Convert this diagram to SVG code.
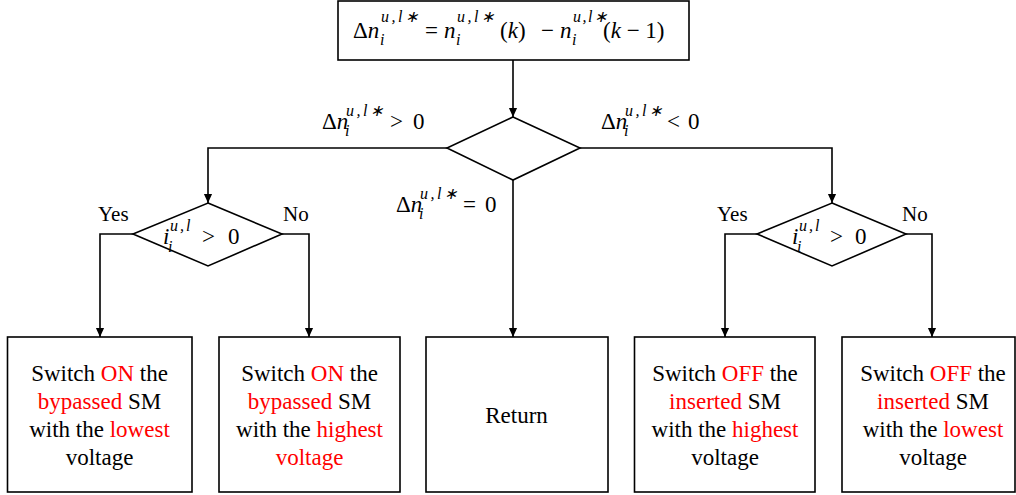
<svg xmlns="http://www.w3.org/2000/svg" width="1016" height="495" viewBox="0 0 1016 495">
<style>
.box{fill:#fff;stroke:#000;stroke-width:1.6}
.ln{fill:none;stroke:#000;stroke-width:1.6}
.t{font-family:'Liberation Serif','Times New Roman',serif;font-size:23px;fill:#000;text-anchor:middle}
.yn{font-family:'Liberation Serif','Times New Roman',serif;font-size:21px;fill:#000}
.r{fill:#ff0000}
.m{font-family:'Liberation Serif','Times New Roman',serif;font-size:23px;fill:#000}
.i{font-style:italic}
.s{font-size:16px;font-style:italic;letter-spacing:2.5px}
.b{font-size:16px;font-style:italic}
</style>
<defs>
<marker id="a" markerUnits="userSpaceOnUse" markerWidth="10" markerHeight="12" refX="11" refY="5" orient="auto" viewBox="0 0 12 10">
<path d="M0,0 L11,5 L0,10 Z" fill="#000"/>
</marker>
</defs>

<g id="connectors">
<path class="ln" d="M513 60 V117" marker-end="url(#a)"/>
<path class="ln" d="M447 148 H208 V203" marker-end="url(#a)"/>
<path class="ln" d="M580 148 H832 V203" marker-end="url(#a)"/>
<path class="ln" d="M513 180 V337" marker-end="url(#a)"/>
<path class="ln" d="M133 234 H100 V337" marker-end="url(#a)"/>
<path class="ln" d="M282 234 H309 V337" marker-end="url(#a)"/>
<path class="ln" d="M757 234 H725 V337" marker-end="url(#a)"/>
<path class="ln" d="M906 234 H932 V337" marker-end="url(#a)"/>
</g>

<g id="labels">
<text id="lbl-gt" class="m" x="322" y="129">Δ<tspan class="i">n</tspan><tspan class="s" x="346" dy="-13">u,l∗</tspan><tspan class="b" x="345" dy="20">i</tspan><tspan x="390" dy="-7">&gt;</tspan><tspan x="413">0</tspan></text>
<text id="lbl-lt" class="m" x="601" y="129">Δ<tspan class="i">n</tspan><tspan class="s" x="625" dy="-13">u,l∗</tspan><tspan class="b" x="624" dy="20">i</tspan><tspan x="667" dy="-7">&lt;</tspan><tspan x="688">0</tspan></text>
<text id="lbl-eq" class="m" x="396" y="212">Δ<tspan class="i">n</tspan><tspan class="s" x="420" dy="-13">u,l∗</tspan><tspan class="b" x="419" dy="20">i</tspan><tspan x="463" dy="-7">=</tspan><tspan x="485">0</tspan></text>
<text class="yn" x="98" y="221">Yes</text>
<text class="yn" x="283" y="221">No</text>
<text class="yn" x="717" y="221">Yes</text>
<text class="yn" x="902" y="221">No</text>
</g>

<g id="start">
<rect class="box" x="338" y="1" width="351" height="59"/>
<text class="m" x="353" y="38">Δ<tspan class="i">n</tspan><tspan class="s" x="381" dy="-16">u,l∗</tspan><tspan class="b" x="380" dy="23">i</tspan><tspan x="425" dy="-7">=</tspan><tspan class="i" x="444">n</tspan><tspan class="s" x="457" dy="-16">u,l∗</tspan><tspan class="b" x="456" dy="23">i</tspan><tspan x="500" dy="-7">(<tspan class="i">k</tspan>)</tspan><tspan x="541">−</tspan><tspan class="i" x="560">n</tspan><tspan class="s" x="573" dy="-16" style="letter-spacing:1.5px">u,l∗</tspan><tspan class="b" x="572" dy="23">i</tspan><tspan x="603" dy="-7">(<tspan class="i">k</tspan> − 1)</tspan></text>
</g>

<g id="decision">
<polygon class="box" points="513,117 580,148 513,180 447,148"/>
</g>

<g id="check-left">
<polygon class="box" points="208,203 282,234 208,266 133,234"/>
<text class="m" x="163" y="244"><tspan class="i">i</tspan><tspan class="s" x="170" dy="-13" style="letter-spacing:2px">u,l</tspan><tspan class="b" x="168" dy="21">i</tspan><tspan x="202" dy="-8">&gt;</tspan><tspan x="228">0</tspan></text>
</g>

<g id="check-right">
<polygon class="box" points="832,203 906,234 832,266 757,234"/>
<text class="m" x="792" y="244"><tspan class="i">i</tspan><tspan class="s" x="799" dy="-13" style="letter-spacing:2px">u,l</tspan><tspan class="b" x="797" dy="21">i</tspan><tspan x="830" dy="-8">&gt;</tspan><tspan x="855">0</tspan></text>
</g>

<g id="box1">
<rect class="box" x="7.5" y="337" width="184.5" height="155"/>
<text class="t" x="99.5" y="381">Switch <tspan class="r">ON</tspan> the</text>
<text class="t" x="99.5" y="409"><tspan class="r">bypassed</tspan> SM</text>
<text class="t" x="99.5" y="437">with the <tspan class="r">lowest</tspan></text>
<text class="t" x="99.5" y="465">voltage</text>
</g>

<g id="box2">
<rect class="box" x="219" y="337" width="181" height="155"/>
<text class="t" x="309.5" y="381">Switch <tspan class="r">ON</tspan> the</text>
<text class="t" x="309.5" y="409"><tspan class="r">bypassed</tspan> SM</text>
<text class="t" x="309.5" y="437">with the <tspan class="r">highest</tspan></text>
<text class="t" x="309.5" y="465"><tspan class="r">voltage</tspan></text>
</g>

<g id="box3">
<rect class="box" x="426" y="337" width="182" height="155"/>
<text class="t" x="516.5" y="423">Return</text>
</g>

<g id="box4">
<rect class="box" x="634.5" y="337" width="180.5" height="155"/>
<text class="t" x="725" y="381">Switch <tspan class="r">OFF</tspan> the</text>
<text class="t" x="725" y="409"><tspan class="r">inserted</tspan> SM</text>
<text class="t" x="725" y="437">with the <tspan class="r">highest</tspan></text>
<text class="t" x="725" y="465">voltage</text>
</g>

<g id="box5">
<rect class="box" x="842" y="337" width="173" height="155"/>
<text class="t" x="933" y="381">Switch <tspan class="r">OFF</tspan> the</text>
<text class="t" x="933" y="409"><tspan class="r">inserted</tspan> SM</text>
<text class="t" x="933" y="437">with the <tspan class="r">lowest</tspan></text>
<text class="t" x="933" y="465">voltage</text>
</g>
</svg>
